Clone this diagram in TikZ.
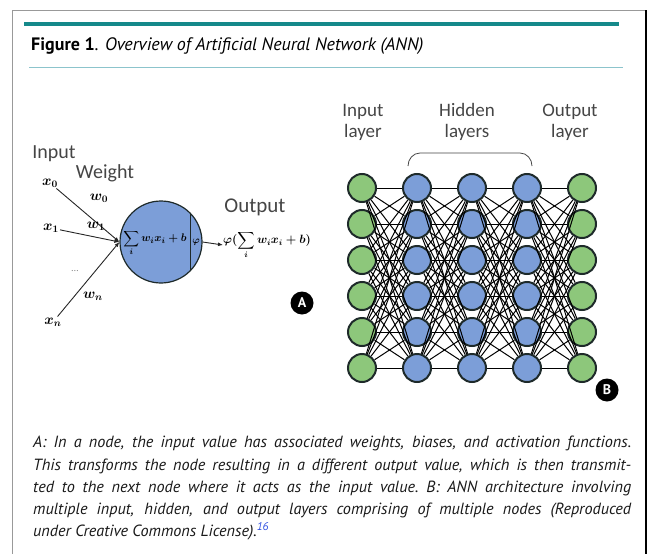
\documentclass[tikz,border=0pt]{standalone}
\usepackage{amsmath}
\usepackage{fontspec}
\setmainfont{PT Sans}
\newfontfamily\labelfont{Carlito}
\usetikzlibrary{arrows.meta, positioning, calc}

\definecolor{barteal}{HTML}{15898A}
\definecolor{lineteal}{HTML}{8CC4CC}
\definecolor{nodeblue}{HTML}{7C9ED8}
\definecolor{nodegreen}{HTML}{8DC77B}
\definecolor{nodeedge}{HTML}{1E2A2A}
\definecolor{labelgray}{HTML}{454545}
\definecolor{refblue}{HTML}{3050E0}

\tikzset{
  neuron/.style={circle, draw=nodeedge, line width=2pt, minimum size=28pt, inner sep=0pt},
  innode/.style={neuron, fill=nodegreen},
  hidnode/.style={neuron, fill=nodeblue},
  edge/.style={line width=1pt, black},
  layerlabel/.style={font=\labelfont\fontsize{19}{21}\selectfont, text=labelgray, align=center, inner sep=0pt},
  mathlbl/.style={font=\fontsize{14}{14}\selectfont\boldmath, inner sep=1pt},
  badge/.style={circle, fill=black, text=white, font=\bfseries\fontsize{14}{14}\selectfont, minimum size=23pt, inner sep=0pt},
  inarrow/.style={-{Latex[length=5pt,width=4pt]}, line width=0.9pt, draw=black!85}
}

\begin{document}
\begin{tikzpicture}[x=1pt, y=-1pt]

\useasboundingbox (0,0) rectangle (648,554);

% frame
\draw[draw=gray!80, line width=1pt] (12,570) -- (12,10) -- (646,10);
\draw[line width=1.6pt] (646,10) -- (646,570);
\fill[barteal] (24,22) rectangle (619,26);
\draw[lineteal, line width=1pt] (29,67) -- (623,67);

\node[anchor=base west, inner sep=0pt] (title) at (31,50)
  {\fontsize{18}{18}\selectfont\textbf{Figure 1}. \textit{Overview of Artificial Neural Network (ANN)}};

% panel A
\node[circle, draw=nodeedge, line width=1.2pt, fill=nodeblue, minimum size=82pt, inner sep=0pt] (neuron) at (161,242) {};
\draw[nodeedge, line width=1.2pt] (neuron.45) -- (neuron.-45);
\node[mathlbl, font=\fontsize{11}{11}\selectfont\boldmath] (sumtxt) at (155,243) {$\displaystyle\sum_i \boldsymbol{w_i x_i + b}$};
\node[mathlbl, font=\fontsize{10}{10}\selectfont\boldmath] (phi) at (196,242) {$\boldsymbol{\varphi}$};
\node[mathlbl, anchor=west, inner sep=0pt, font=\fontsize{12}{12}\selectfont\boldmath] (outfn) at (223,245) {$\boldsymbol{\varphi}(\displaystyle\sum_i \boldsymbol{w_i x_i + b})$};
\draw[inarrow] (neuron.east) -- (outfn.west);

\coordinate (hub) at (neuron.west);
\node[mathlbl] (x0) at (50,183) {$\boldsymbol{x_0}$};
\node[mathlbl] (x1) at (51,228) {$\boldsymbol{x_1}$};
\node[mathlbl] (xn) at (53,322) {$\boldsymbol{x_n}$};
\foreach \src in {x0,x1,xn} \draw[inarrow] (\src) -- (hub);

\node[mathlbl] (w0) at (99,198) {$\boldsymbol{w_0}$};
\node[mathlbl] (w1) at (96,226) {$\boldsymbol{w_1}$};
\node[mathlbl] (wn) at (93,296) {$\boldsymbol{w_n}$};
\node[text=gray, font=\fontsize{10}{10}\selectfont] (dots) at (75,271) {\dots};

\node[layerlabel, font=\labelfont\fontsize{20}{20}\selectfont] (inputlbl) at (54,154) {Input};
\node[layerlabel, font=\labelfont\fontsize{20}{20}\selectfont] (weightlbl) at (105,173) {Weight};
\node[layerlabel, font=\labelfont\fontsize{21}{21}\selectfont] (outputlbl) at (255,207) {Output};

\node[badge] (badgea) at (302,303) {A};

% panel B
\foreach \l/\x/\kind in {1/362/innode, 2/417/hidnode, 3/472/hidnode, 4/527/hidnode, 5/582/innode}
  \foreach \r in {1,...,6}
    \node[\kind] (n-\l-\r) at (\x,152+36*\r) {};

\foreach \l [evaluate=\l as \nl using int(\l+1)] in {1,...,4}
  \foreach \a in {1,...,6}
    \foreach \b in {1,...,6}
      \draw[edge] (n-\l-\a) -- (n-\nl-\b);

\node[layerlabel] (inlayer) at (363,122) {Input\\layer};
\node[layerlabel] (hidlayer) at (467,122) {Hidden\\layers};
\node[layerlabel] (outlayer) at (570,122) {Output\\layer};
\draw[labelgray, line width=0.8pt] (408,166) to[out=90, in=180] (420,153) -- (520,153) to[out=0, in=90] (532,166);

\node[badge] (badgeb) at (607,390) {B};

% caption
\node[anchor=north west, inner sep=0pt, text width=598pt, align=justify, text=black!90,
      font=\itshape\fontsize{16.2}{22.3}\selectfont] (caption) at (33,436)
  {A: In a node, the input value has associated weights, biases, and activation functions.\linebreak
   This transforms the node resulting in a different output value, which is then transmit-\linebreak
   ted to the next node where it acts as the input value.\ B: ANN architecture involving\linebreak
   multiple input, hidden, and output layers comprising of multiple nodes (Reproduced\linebreak
   under Creative Commons License).\textsuperscript{\color{refblue}16}};

\end{tikzpicture}
\end{document}
